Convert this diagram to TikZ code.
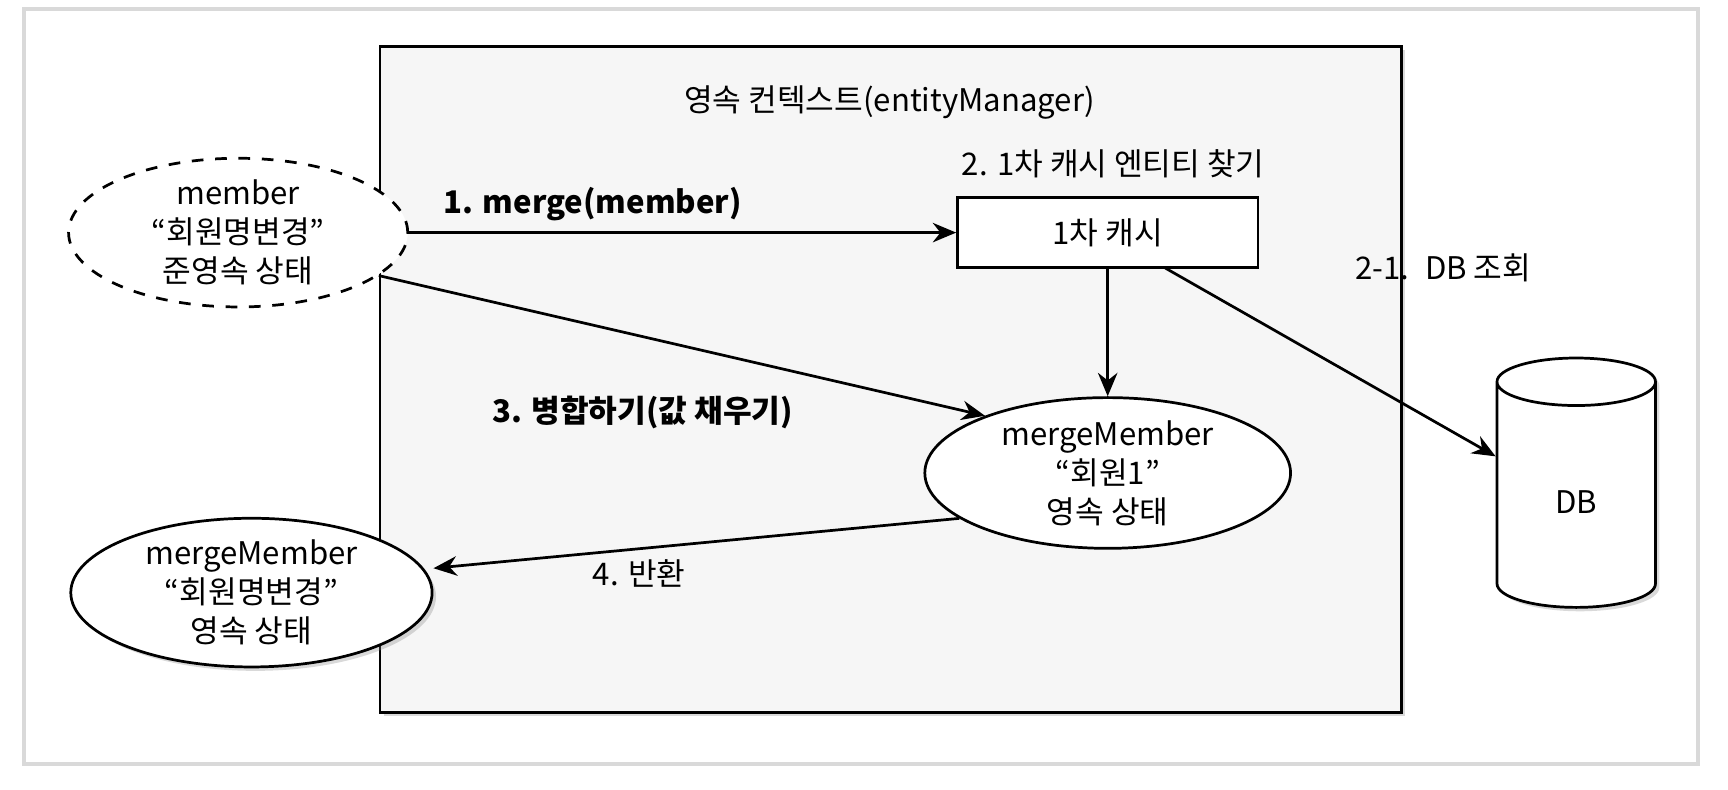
\documentclass[tikz,border=0pt]{standalone}
\usepackage{fontspec}
\setmainfont{Noto Sans CJK KR}
\usetikzlibrary{arrows.meta,shapes.geometric,shadows}
\begin{document}
\begin{tikzpicture}[x=0.01cm,y=-0.01cm,font=\fontsize{8}{10}\selectfont,
    every node/.style={align=center},
    obj/.style={ellipse,draw,fill=white,line width=0.7pt,inner sep=0pt},
    link/.style={-{Stealth[length=6pt,width=5pt]},line width=0.7pt}]
    \useasboundingbox (0,0) rectangle (1560,713);
    \draw[gray!30,line width=1pt](22,8)rectangle(1533,690);
    % persistence context
    \draw[fill=gray!7,line width=0.7pt,drop shadow={opacity=0.3,shadow xshift=1pt,shadow yshift=-1pt}](343,42)rectangle(1265,643);
    \node (title) at (803,93) {영속 컨텍스트(entityManager)};
    \node (find) at (1005,148) {2. 1차 캐시 엔티티 찾기};
    \node[draw,fill=white,line width=0.7pt,minimum width=2.71cm,minimum height=0.63cm] (cache) at (1000,210) {1차 캐시};

    \node[obj,dashed,minimum width=3.06cm,minimum height=1.3cm] (member) at (215,210) {member\\“회원명변경”\\준영속 상태};
    \node[obj,minimum width=3.3cm,minimum height=1.36cm] (merged) at (1000,427) {mergeMember\\“회원1”\\영속 상태};
    \node[obj,minimum width=3.26cm,minimum height=1.3cm,drop shadow={opacity=0.3,shadow xshift=1pt,shadow yshift=-1pt}] (result) at (227,535) {mergeMember\\“회원명변경”\\영속 상태};
    \node[cylinder,draw,fill=white,line width=0.7pt,shape border rotate=90,aspect=0.7,minimum width=1.43cm,minimum height=2.25cm,drop shadow={opacity=0.3,shadow xshift=1pt,shadow yshift=-1pt}] (db) at (1423,453) {DB};

    \node (dblabel) at (1303,242) {2-1.\enspace DB 조회};
    \node[font=\fontsize{8}{10}\selectfont\bfseries] (step1) at (535,184) {1. merge(member)};
    \node[font=\fontsize{8}{10}\selectfont\bfseries] (step3) at (580,372) {3. 병합하기(값 채우기)};
    \node (step4) at (577,518) {4. 반환};

    \draw[link](member.east)--(cache.west);
    \draw[link](cache.south)--(merged.north);
    \draw[link](1052,242)--(db.west|-0,412);
    \draw[link](member.-17)--(merged.155);
    \draw[link](merged.-163)--(result.east|-0,513);
\end{tikzpicture}
\end{document}
